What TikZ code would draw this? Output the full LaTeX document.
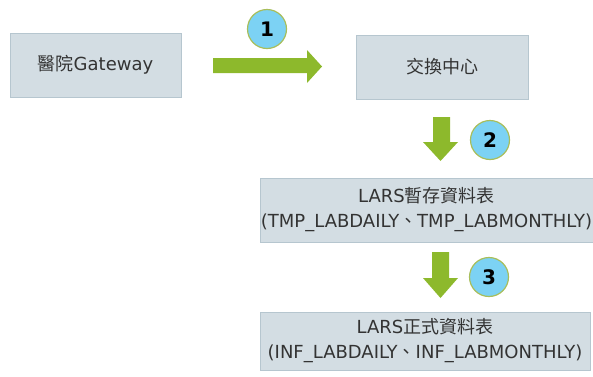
\documentclass[tikz,border=0pt]{standalone}
\usepackage{fontspec}
\setmainfont{DejaVu Sans}
\newfontfamily\cjk{Noto Sans CJK TC}

\definecolor{boxfill}{HTML}{D3DDE3}
\definecolor{boxline}{HTML}{B6C6CF}
\definecolor{txt}{HTML}{333333}
\definecolor{flow}{HTML}{8DB92C}
\definecolor{badgefill}{HTML}{7CD2F4}
\definecolor{badgeline}{HTML}{A9BE5A}

\tikzset{
  stagebox/.style={draw=boxline, line width=0.9pt, fill=boxfill, text=txt,
    inner sep=0pt, align=center, font=\fontsize{18}{25}\selectfont},
  badge/.style={circle, draw=badgeline, line width=1.2pt, fill=badgefill,
    minimum size=39pt, inner sep=0pt, font=\fontsize{20}{20}\selectfont\bfseries},
  flowarrow/.style={fill=flow, draw=none},
}

\begin{document}
\begin{tikzpicture}[x=1pt, y=-1pt]
  \useasboundingbox (0,0) rectangle (593,376);

  % stages
  \node[stagebox, minimum width=171pt, minimum height=64pt] (gw) at (95.5,65)
    {{\cjk 醫院}Gateway};
  \node[stagebox, minimum width=172pt, minimum height=64pt] (hub) at (442,67)
    {\cjk 交換中心};
  \node[stagebox, minimum width=333pt, minimum height=64pt] (tmp) at (426.5,210)
    {LARS{\cjk 暫存資料表}\\(TMP\_LABDAILY{\cjk 、}TMP\_LABMONTHLY)};
  \node[stagebox, minimum width=330pt, minimum height=58pt] (inf) at (425,341)
    {LARS{\cjk 正式資料表}\\(INF\_LABDAILY{\cjk 、}INF\_LABMONTHLY)};

  % block arrows between stages
  \fill[flowarrow] (213,58) -- (307,58) -- (307,50) -- (322,66.5)
    -- (307,83) -- (307,73) -- (213,73) -- cycle;
  \fill[flowarrow] (433,117) -- (450,117) -- (450,142) -- (458,142)
    -- (440.5,161) -- (423,142) -- (433,142) -- cycle;
  \fill[flowarrow] (432,252) -- (449,252) -- (449,278) -- (458,278)
    -- (440.5,298) -- (423,278) -- (432,278) -- cycle;

  % step badges
  \node[badge] (b1) at (267,29) {1};
  \node[badge] (b2) at (490,140) {2};
  \node[badge] (b3) at (489,277) {3};
\end{tikzpicture}
\end{document}
